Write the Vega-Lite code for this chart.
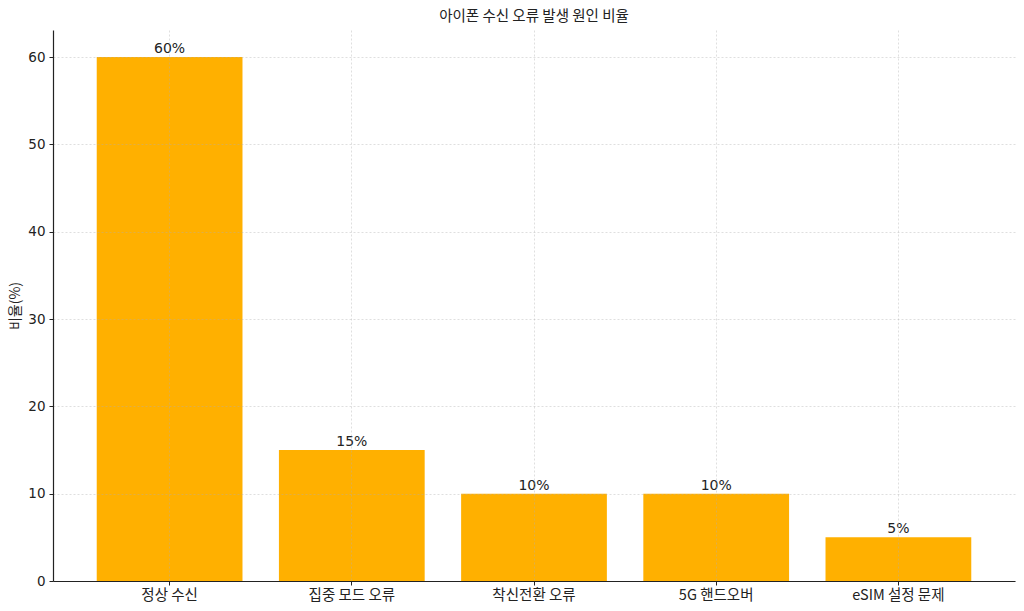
{
  "$schema": "https://vega.github.io/schema/vega-lite/v6.json",
  "width": 962,
  "height": 551,
  "autosize": "none",
  "padding": {"left": 53, "top": 30, "right": 9, "bottom": 30},
  "background": "white",
  "title": {
    "text": "아이폰 수신 오류 발생 원인 비율",
    "font": "Noto Sans CJK KR",
    "fontSize": 14.5,
    "fontWeight": "normal",
    "color": "#222222",
    "anchor": "middle",
    "offset": 6
  },
  "data": {
    "values": [
      {"cause": "정상 수신", "ratio": 60, "label": "60%"},
      {"cause": "집중 모드 오류", "ratio": 15, "label": "15%"},
      {"cause": "착신전환 오류", "ratio": 10, "label": "10%"},
      {"cause": "5G 핸드오버", "ratio": 10, "label": "10%"},
      {"cause": "eSIM 설정 문제", "ratio": 5, "label": "5%"}
    ]
  },
  "encoding": {
    "x": {
      "field": "cause",
      "type": "nominal",
      "sort": null,
      "scale": {"paddingInner": 0.2, "paddingOuter": 0.24},
      "axis": {
        "title": null,
        "labelAngle": 0,
        "labelFont": "Noto Sans CJK KR",
        "labelFontSize": 14.5,
        "labelColor": "#222222",
        "labelPadding": 3,
        "bandPosition": 0.5,
        "grid": true,
        "gridColor": "#b0b0b0",
        "gridOpacity": 0.4,
        "gridDash": [2, 2],
        "domainColor": "#222222",
        "domainWidth": 1.2,
        "tickColor": "#222222",
        "tickSize": 4,
        "zindex": 1
      }
    },
    "y": {
      "field": "ratio",
      "type": "quantitative",
      "scale": {"domain": [0, 63.1], "nice": false},
      "axis": {
        "title": "비율(%)",
        "titleFont": "Noto Sans CJK KR",
        "titleFontSize": 14,
        "titleFontWeight": "normal",
        "titleColor": "#222222",
        "titlePadding": 5,
        "values": [0, 10, 20, 30, 40, 50, 60],
        "labelFont": "DejaVu Sans",
        "labelFontSize": 13.5,
        "labelColor": "#222222",
        "labelPadding": 4,
        "grid": true,
        "gridColor": "#b0b0b0",
        "gridOpacity": 0.4,
        "gridDash": [2, 2],
        "domainColor": "#222222",
        "domainWidth": 1.2,
        "tickColor": "#222222",
        "tickSize": 4,
        "zindex": 1
      }
    }
  },
  "layer": [
    {
      "mark": {"type": "bar", "color": "#FFB000"}
    },
    {
      "mark": {
        "type": "text",
        "baseline": "bottom",
        "dy": -1,
        "font": "DejaVu Sans",
        "fontSize": 14,
        "color": "#222222"
      },
      "encoding": {
        "text": {"field": "label", "type": "nominal"}
      }
    }
  ],
  "config": {
    "view": {"stroke": null}
  }
}
